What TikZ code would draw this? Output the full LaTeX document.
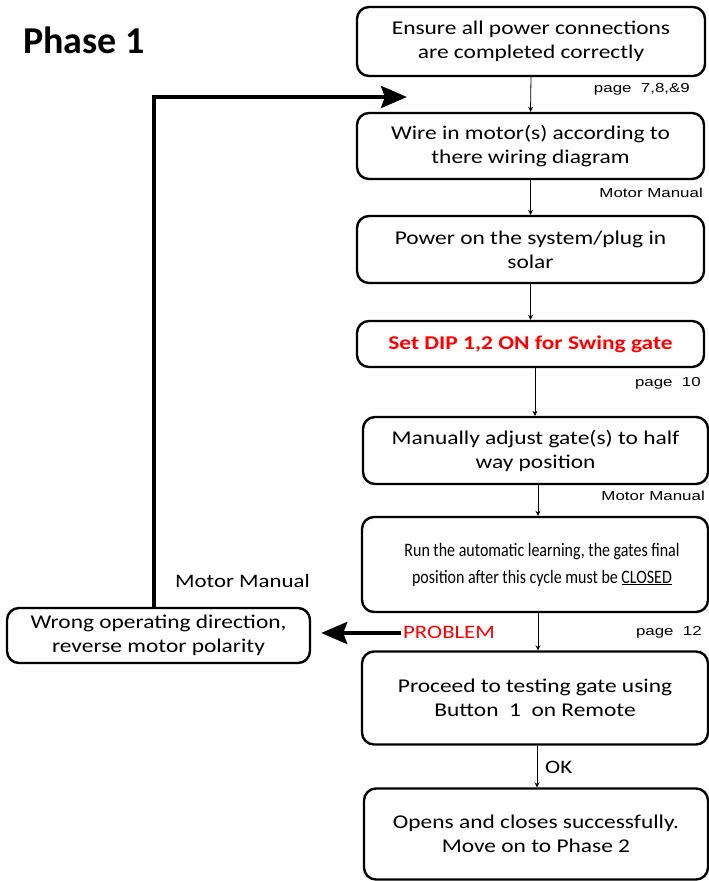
\documentclass[tikz,border=0pt]{standalone}
\usepackage{fontspec}
\setmainfont{Carlito}[FakeStretch=1.2]
\newfontfamily\condfont{Carlito}[FakeStretch=0.84]
\newfontfamily\labfont{Liberation Sans}[FakeStretch=1.3]
\newfontfamily\phasefont{Carlito}
\usetikzlibrary{arrows.meta,calc}
\definecolor{probred}{RGB}{255,0,0}
\begin{document}
\begin{tikzpicture}[x=1pt,y=-1pt,
  flowbox/.style={draw, line width=2.4pt, rounded corners=12pt, align=center, inner sep=0pt, font=\fontsize{19.5}{24}\selectfont},
  thinarrow/.style={line width=0.8pt, -{Stealth[length=5pt,width=5pt]}},
  fatarrow/.style={line width=4pt, -{Stealth[length=26pt,width=22pt,inset=4pt]}},
  sidelabel/.style={font=\labfont\fontsize{13}{15}\selectfont, inner sep=0pt, anchor=base east},
  plainlabel/.style={font=\fontsize{19}{24}\selectfont, inner sep=0pt, anchor=base west},
]
\useasboundingbox (0,0) rectangle (709,881);

\node[font=\phasefont\bfseries\fontsize{38}{44}\selectfont, inner sep=0pt, anchor=base west] (phase) at (23,53) {Phase 1};

\node[flowbox, minimum width=348pt, minimum height=69pt] (b1) at (531,41.5) {Ensure all power connections\\are completed correctly};
\node[flowbox, minimum width=347pt, minimum height=66pt] (b2) at (530.5,146) {Wire in motor(s) according to\\there wiring diagram};
\node[flowbox, minimum width=347pt, minimum height=67pt] (b3) at (530.5,249.5) {Power on the system/plug in\\solar};
\node[flowbox, minimum width=347pt, minimum height=46pt, text=probred, font=\bfseries\fontsize{19.5}{24}\selectfont] (b4) at (530.5,344) {Set DIP 1,2 ON for Swing gate};
\node[flowbox, minimum width=345pt, minimum height=67pt] (b5) at (535.5,450.5) {Manually adjust gate(s) to half\\way position};
\node[flowbox, minimum width=346pt, minimum height=95pt, font=\condfont\fontsize{19}{27}\selectfont] (b6) at (535,564.5) {\hspace*{14pt}Run the automatic learning, the gates final\\\hspace*{14pt}position after this cycle must be \underline{CLOSED}};
\node[flowbox, minimum width=346pt, minimum height=93pt] (b7) at (535,698) {Proceed to testing gate using\\Button\ \ 1\ \ on Remote};
\node[flowbox, minimum width=344pt, minimum height=91pt] (b8) at (536,834) {Opens and closes successfully.\\Move on to Phase 2};
\node[flowbox, minimum width=303pt, minimum height=55pt] (b9) at (158.5,635.5) {Wrong operating direction,\\reverse motor polarity};

% thin connectors
\draw[thinarrow] (b1.south) -- (b2.north);
\draw[thinarrow] (b2.south) -- (b3.north);
\draw[thinarrow] (b3.south) -- (b4.north);
\draw[thinarrow] ($(b4.south)+(4.5,0)$) -- ($(b5.north)+(-0.5,0)$);
\draw[thinarrow] ($(b5.south)+(2.5,0)$) -- ($(b6.north)+(3,0)$);
\draw[thinarrow] ($(b6.south)+(3,0)$) -- ($(b7.north)+(3,0)$);
\draw[thinarrow] ($(b7.south)+(2,0)$) -- ($(b8.north)+(1,0)$);

% side labels
\node[sidelabel] (l1) at (690,92) {page\ \ 7,8,\&9};
\node[sidelabel] (l2) at (703,197) {Motor Manual};
\node[sidelabel] (l3) at (701,386) {page\ \ 10};
\node[sidelabel] (l4) at (705,500) {Motor Manual};
\node[sidelabel] (l5) at (702,635) {page\ \ 12};
\node[plainlabel] (ok) at (545,773) {OK};
\node[plainlabel] (mm) at (175,587) {Motor Manual};
\node[plainlabel, text=probred] (prob) at (403,638.5) {PROBLEM};

% problem arrow
\coordinate (pa) at (0,633);
\draw[fatarrow, shorten >=10pt] ($(prob.west |- pa)+(-2,0)$) -- (b9.east |- pa);

% feedback loop
\coordinate (lc) at (154,97);
\coordinate (le) at (407,97);
\draw[line width=4pt] (lc |- b9.north) -- ($(lc)+(0,-2)$);
\draw[fatarrow] ($(lc)+(-2,0)$) -- (le);
\end{tikzpicture}
\end{document}
